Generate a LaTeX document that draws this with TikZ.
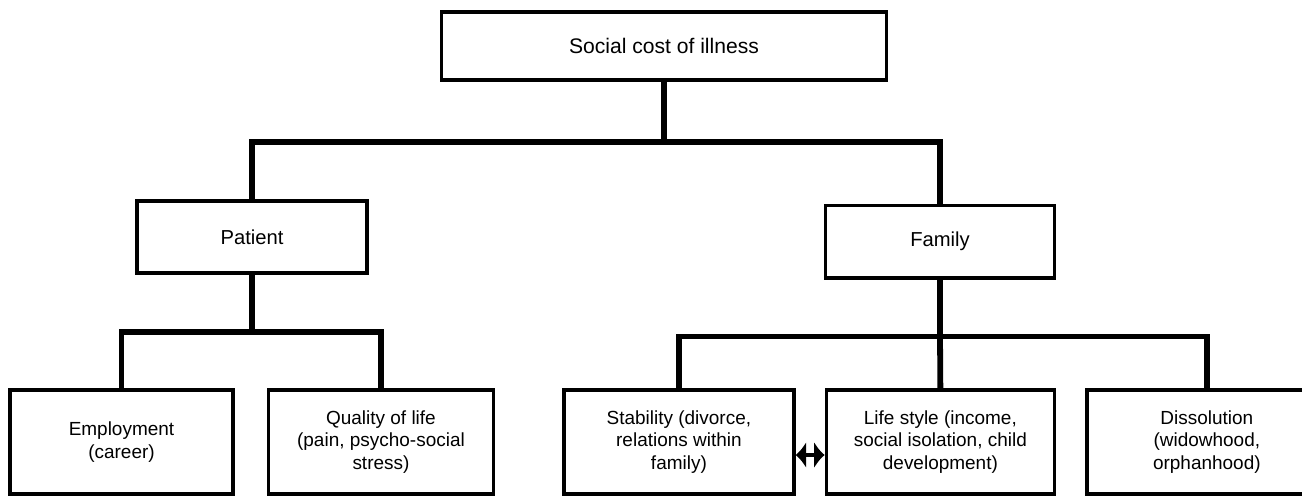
\documentclass[tikz,border=0pt]{standalone}
\usepackage{fontspec}
\setmainfont{Liberation Sans}
\usetikzlibrary{arrows.meta,positioning}

\begin{document}
\begin{tikzpicture}[x=0.02cm, y=-0.02cm, >=Latex,
  box/.style={draw, line width=2pt, align=center, inner sep=2pt},
  topbox/.style={box, minimum width=8.9cm, minimum height=1.36cm, font=\fontsize{12}{14}\selectfont},
  midbox/.style={box, minimum width=4.6cm, minimum height=1.45cm, font=\fontsize{11.5}{13.5}\selectfont},
  leaf/.style={box, minimum height=2.08cm, font=\fontsize{10.8}{12.7}\selectfont},
  conn/.style={line width=3.3pt},
  dbl/.style={arrows={Latex[length=2.1mm,width=5.4mm]-Latex[length=2.1mm,width=5.4mm]}, line width=2pt}]
  \useasboundingbox (0,0) rectangle (1302,495);
  \node[topbox] (cost) at (664,46) {Social cost of illness};
  \node[midbox] (patient) at (252,237) {Patient};
  \node[midbox, minimum width=4.58cm] (family) at (940,241.5) {Family};
  \node[leaf, minimum width=4.46cm] (employ) at (121.5,442) {Employment\\(career)};
  \node[leaf, minimum width=4.5cm, right=0.64cm of employ] (quality) {Quality of life\\(pain, psycho-social\\stress)};
  \node[leaf, minimum width=4.6cm, right=1.34cm of quality] (stab) {Stability (divorce,\\relations within\\family)};
  \node[leaf, minimum width=4.56cm, right=0.58cm of stab] (life) {Life style (income,\\social isolation, child\\development)};
  \node[leaf, minimum width=4.8cm, right=0.58cm of life] (dissol) {Dissolution\\(widowhood,\\orphanhood)};
  \draw[conn] (cost.south) -- ++(0pt,-1.2cm) coordinate (cj);
  \draw[conn] (patient.north) |- (cj) -| (family.north);
  \draw[conn] (patient.south) -- ++(0pt,-1.14cm) coordinate (pj);
  \draw[conn] (employ.north) |- (pj) -| (quality.north);
  \draw[conn] (family.south) -- ++(0pt,-1.14cm) coordinate (fj);
  \draw[conn] (stab.north) |- (fj) -| (dissol.north);
  \draw[conn] (fj) -- (life.north);
  \draw[dbl] ([yshift=-0.26cm]stab.east) -- ([yshift=-0.26cm]life.west);
\end{tikzpicture}
\end{document}
